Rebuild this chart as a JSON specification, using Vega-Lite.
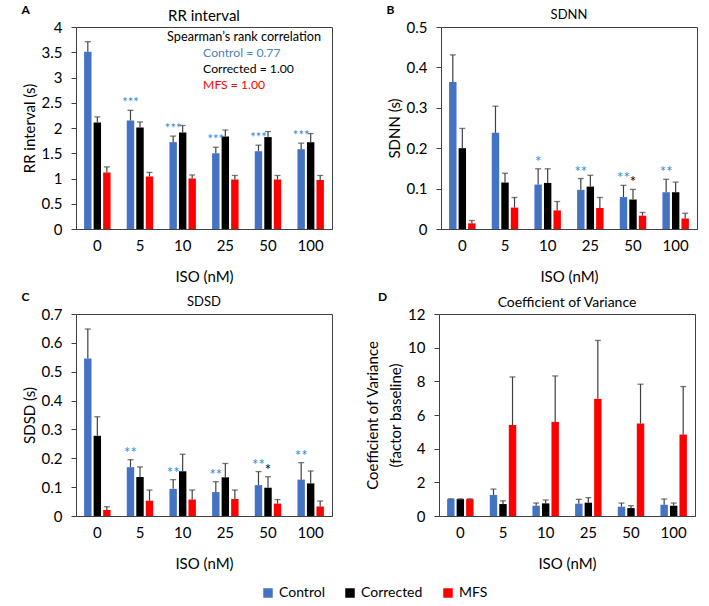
{
  "$schema": "https://vega.github.io/schema/vega-lite/v6.json",
  "padding": {"left": 21, "top": 3, "right": 0, "bottom": 0},
  "background": "white",
  "datasets": {
    "bars": [
      {"panel":"A","iso":"0","group":"Control","value":3.51,"upper":3.71,"sig":""},
      {"panel":"A","iso":"0","group":"Corrected","value":2.11,"upper":2.22,"sig":""},
      {"panel":"A","iso":"0","group":"MFS","value":1.12,"upper":1.23,"sig":""},
      {"panel":"A","iso":"5","group":"Control","value":2.15,"upper":2.35,"sig":"***"},
      {"panel":"A","iso":"5","group":"Corrected","value":2.01,"upper":2.12,"sig":""},
      {"panel":"A","iso":"5","group":"MFS","value":1.04,"upper":1.12,"sig":""},
      {"panel":"A","iso":"10","group":"Control","value":1.72,"upper":1.84,"sig":"***"},
      {"panel":"A","iso":"10","group":"Corrected","value":1.91,"upper":2.05,"sig":""},
      {"panel":"A","iso":"10","group":"MFS","value":1.00,"upper":1.07,"sig":""},
      {"panel":"A","iso":"25","group":"Control","value":1.50,"upper":1.62,"sig":"***"},
      {"panel":"A","iso":"25","group":"Corrected","value":1.83,"upper":1.96,"sig":""},
      {"panel":"A","iso":"25","group":"MFS","value":0.98,"upper":1.06,"sig":""},
      {"panel":"A","iso":"50","group":"Control","value":1.54,"upper":1.66,"sig":"***"},
      {"panel":"A","iso":"50","group":"Corrected","value":1.82,"upper":1.93,"sig":""},
      {"panel":"A","iso":"50","group":"MFS","value":0.98,"upper":1.06,"sig":""},
      {"panel":"A","iso":"100","group":"Control","value":1.58,"upper":1.70,"sig":"***"},
      {"panel":"A","iso":"100","group":"Corrected","value":1.72,"upper":1.89,"sig":""},
      {"panel":"A","iso":"100","group":"MFS","value":0.97,"upper":1.06,"sig":""},

      {"panel":"B","iso":"0","group":"Control","value":0.364,"upper":0.431,"sig":""},
      {"panel":"B","iso":"0","group":"Corrected","value":0.200,"upper":0.249,"sig":""},
      {"panel":"B","iso":"0","group":"MFS","value":0.014,"upper":0.021,"sig":""},
      {"panel":"B","iso":"5","group":"Control","value":0.238,"upper":0.304,"sig":""},
      {"panel":"B","iso":"5","group":"Corrected","value":0.115,"upper":0.138,"sig":""},
      {"panel":"B","iso":"5","group":"MFS","value":0.053,"upper":0.078,"sig":""},
      {"panel":"B","iso":"10","group":"Control","value":0.110,"upper":0.149,"sig":"*"},
      {"panel":"B","iso":"10","group":"Corrected","value":0.114,"upper":0.149,"sig":""},
      {"panel":"B","iso":"10","group":"MFS","value":0.046,"upper":0.068,"sig":""},
      {"panel":"B","iso":"25","group":"Control","value":0.097,"upper":0.125,"sig":"**"},
      {"panel":"B","iso":"25","group":"Corrected","value":0.105,"upper":0.133,"sig":""},
      {"panel":"B","iso":"25","group":"MFS","value":0.052,"upper":0.078,"sig":""},
      {"panel":"B","iso":"50","group":"Control","value":0.079,"upper":0.108,"sig":"**"},
      {"panel":"B","iso":"50","group":"Corrected","value":0.073,"upper":0.098,"sig":"*"},
      {"panel":"B","iso":"50","group":"MFS","value":0.033,"upper":0.041,"sig":""},
      {"panel":"B","iso":"100","group":"Control","value":0.091,"upper":0.123,"sig":"**"},
      {"panel":"B","iso":"100","group":"Corrected","value":0.091,"upper":0.116,"sig":""},
      {"panel":"B","iso":"100","group":"MFS","value":0.026,"upper":0.039,"sig":""},

      {"panel":"C","iso":"0","group":"Control","value":0.546,"upper":0.648,"sig":""},
      {"panel":"C","iso":"0","group":"Corrected","value":0.278,"upper":0.344,"sig":""},
      {"panel":"C","iso":"0","group":"MFS","value":0.021,"upper":0.032,"sig":""},
      {"panel":"C","iso":"5","group":"Control","value":0.169,"upper":0.195,"sig":"**"},
      {"panel":"C","iso":"5","group":"Corrected","value":0.135,"upper":0.170,"sig":""},
      {"panel":"C","iso":"5","group":"MFS","value":0.053,"upper":0.090,"sig":""},
      {"panel":"C","iso":"10","group":"Control","value":0.094,"upper":0.126,"sig":"**"},
      {"panel":"C","iso":"10","group":"Corrected","value":0.155,"upper":0.214,"sig":""},
      {"panel":"C","iso":"10","group":"MFS","value":0.057,"upper":0.090,"sig":""},
      {"panel":"C","iso":"25","group":"Control","value":0.083,"upper":0.119,"sig":"**"},
      {"panel":"C","iso":"25","group":"Corrected","value":0.134,"upper":0.182,"sig":""},
      {"panel":"C","iso":"25","group":"MFS","value":0.059,"upper":0.090,"sig":""},
      {"panel":"C","iso":"50","group":"Control","value":0.107,"upper":0.154,"sig":"**"},
      {"panel":"C","iso":"50","group":"Corrected","value":0.098,"upper":0.136,"sig":"*"},
      {"panel":"C","iso":"50","group":"MFS","value":0.043,"upper":0.057,"sig":""},
      {"panel":"C","iso":"100","group":"Control","value":0.126,"upper":0.185,"sig":"**"},
      {"panel":"C","iso":"100","group":"Corrected","value":0.113,"upper":0.156,"sig":""},
      {"panel":"C","iso":"100","group":"MFS","value":0.033,"upper":0.052,"sig":""},

      {"panel":"D","iso":"0","group":"Control","value":1.0,"upper":1.02,"sig":""},
      {"panel":"D","iso":"0","group":"Corrected","value":1.0,"upper":1.02,"sig":""},
      {"panel":"D","iso":"0","group":"MFS","value":1.0,"upper":1.02,"sig":""},
      {"panel":"D","iso":"5","group":"Control","value":1.25,"upper":1.6,"sig":""},
      {"panel":"D","iso":"5","group":"Corrected","value":0.71,"upper":0.9,"sig":""},
      {"panel":"D","iso":"5","group":"MFS","value":5.40,"upper":8.26,"sig":""},
      {"panel":"D","iso":"10","group":"Control","value":0.61,"upper":0.77,"sig":""},
      {"panel":"D","iso":"10","group":"Corrected","value":0.75,"upper":0.95,"sig":""},
      {"panel":"D","iso":"10","group":"MFS","value":5.59,"upper":8.32,"sig":""},
      {"panel":"D","iso":"25","group":"Control","value":0.73,"upper":0.99,"sig":""},
      {"panel":"D","iso":"25","group":"Corrected","value":0.79,"upper":1.09,"sig":""},
      {"panel":"D","iso":"25","group":"MFS","value":6.96,"upper":10.43,"sig":""},
      {"panel":"D","iso":"50","group":"Control","value":0.55,"upper":0.77,"sig":""},
      {"panel":"D","iso":"50","group":"Corrected","value":0.47,"upper":0.61,"sig":""},
      {"panel":"D","iso":"50","group":"MFS","value":5.49,"upper":7.83,"sig":""},
      {"panel":"D","iso":"100","group":"Control","value":0.67,"upper":1.01,"sig":""},
      {"panel":"D","iso":"100","group":"Corrected","value":0.61,"upper":0.77,"sig":""},
      {"panel":"D","iso":"100","group":"MFS","value":4.84,"upper":7.69,"sig":""}
    ],
    "notes": [
      {"iso":"25","group":"Control","label":"Control = 0.77","y":3.49},
      {"iso":"25","group":"Corrected","label":"Corrected = 1.00","y":3.17},
      {"iso":"25","group":"MFS","label":"MFS = 1.00","y":2.85}
    ],
    "heading": [
      {"iso":"25","label":"Spearman’s rank correlation","y":3.80}
    ]
  },
  "vconcat": [
    {
      "hconcat": [
        {
          "title": {"text": "A", "anchor": "start", "fontWeight": "bold", "fontSize": 12, "offset": -8},
          "vconcat": [
            {
              "width": 256, "height": 202,
              "title": {"text": "RR interval", "fontSize": 15, "offset": -4, "frame": "group"},
              "data": {"name": "bars"},
              "transform": [{"filter": "datum.panel === 'A'"}],
              "encoding": {
                "x": {"field": "iso", "type": "nominal", "sort": ["0","5","10","25","50","100"],
                      "scale": {"paddingInner": 0.38, "paddingOuter": 0.19},
                      "axis": {"title": "ISO (nM)"}},
                "xOffset": {"field": "group", "type": "nominal", "sort": ["Control","Corrected","MFS"], "scale": {"paddingInner": 0.22}}
              },
              "layer": [
                {"mark": {"type": "bar"},
                 "encoding": {
                   "y": {"field": "value", "type": "quantitative", "scale": {"domain": [0, 4]},
                         "axis": {"title": "RR interval (s)", "values": [0,0.5,1,1.5,2,2.5,3,3.5,4], "format": "~g", "labelOverlap": false}},
                   "color": {"field": "group", "type": "nominal", "sort": ["Control","Corrected","MFS"],
                             "scale": {"domain": ["Control","Corrected","MFS"], "range": ["#4472C4","#000000","#FF0000"]},
                             "legend": {"title": null, "orient": "none", "direction": "horizontal", "legendX": 185, "legendY": 559, "symbolType": "square", "symbolSize": 90, "symbolStrokeWidth": 0, "labelFontSize": 14, "labelFont": "Lato", "columnPadding": 18, "symbolOpacity": 1}}
                 }},
                {"mark": {"type": "rule", "color": "#404040", "strokeWidth": 1.2},
                 "encoding": {"y": {"field": "value", "type": "quantitative", "axis": {"title": "RR interval (s)", "values": [0,0.5,1,1.5,2,2.5,3,3.5,4], "format": "~g", "labelOverlap": false}}, "y2": {"field": "upper"}}},
                {"mark": {"type": "tick", "color": "#404040", "size": 6, "thickness": 1.3},
                 "encoding": {"y": {"field": "upper", "type": "quantitative", "axis": {"title": "RR interval (s)", "values": [0,0.5,1,1.5,2,2.5,3,3.5,4], "format": "~g", "labelOverlap": false}}}},
                {"transform": [{"filter": "datum.sig !== ''"}],
                 "mark": {"type": "text", "baseline": "middle", "dy": -7, "fontSize": 13, "font": "Lato"},
                 "encoding": {"y": {"field": "upper", "type": "quantitative", "axis": {"title": "RR interval (s)", "values": [0,0.5,1,1.5,2,2.5,3,3.5,4], "format": "~g", "labelOverlap": false}}, "text": {"field": "sig"},
                   "color": {"condition": {"test": "datum.group === 'Control'", "value": "#2E8BDD"}, "value": "#000000"}}},
                {"data": {"name": "heading"},
                 "mark": {"type": "text", "align": "center", "baseline": "middle", "fontSize": 12.7, "font": "Lato", "color": "#000000", "dx": 32},
                 "encoding": {"x": {"field": "iso", "type": "nominal"}, "xOffset": {"value": 0},
                   "y": {"field": "y", "type": "quantitative", "axis": {"title": "RR interval (s)", "values": [0,0.5,1,1.5,2,2.5,3,3.5,4], "format": "~g", "labelOverlap": false}}, "text": {"field": "label"}}},
                {"data": {"name": "notes"},
                 "mark": {"type": "text", "align": "left", "baseline": "middle", "fontSize": 12.2, "font": "Lato", "dx": -9},
                 "encoding": {"x": {"field": "iso", "type": "nominal"}, "xOffset": {"value": 0},
                   "y": {"field": "y", "type": "quantitative", "axis": {"title": "RR interval (s)", "values": [0,0.5,1,1.5,2,2.5,3,3.5,4], "format": "~g", "labelOverlap": false}}, "text": {"field": "label"},
                   "color": {"condition": [{"test": "datum.group === 'Control'", "value": "#4F81BD"}, {"test": "datum.group === 'MFS'", "value": "#FF0000"}], "value": "#000000"}}}
              ]
            }
          ]
        },
        {
          "title": {"text": "B", "anchor": "start", "fontWeight": "bold", "fontSize": 12, "offset": -8},
          "vconcat": [
            {
              "width": 256, "height": 202,
              "title": {"text": "SDNN", "fontSize": 13, "offset": -2, "frame": "group"},
              "data": {"name": "bars"},
              "transform": [{"filter": "datum.panel === 'B'"}],
              "encoding": {
                "x": {"field": "iso", "type": "nominal", "sort": ["0","5","10","25","50","100"],
                      "scale": {"paddingInner": 0.38, "paddingOuter": 0.19},
                      "axis": {"title": "ISO (nM)"}},
                "xOffset": {"field": "group", "type": "nominal", "sort": ["Control","Corrected","MFS"], "scale": {"paddingInner": 0.22}}
              },
              "layer": [
                {"mark": {"type": "bar"},
                 "encoding": {
                   "y": {"field": "value", "type": "quantitative", "scale": {"domain": [0, 0.5]},
                         "axis": {"title": "SDNN (s)", "values": [0,0.1,0.2,0.3,0.4,0.5], "format": "~g", "labelOverlap": false}},
                   "color": {"field": "group", "type": "nominal", "sort": ["Control","Corrected","MFS"]}
                 }},
                {"mark": {"type": "rule", "color": "#404040", "strokeWidth": 1.2},
                 "encoding": {"y": {"field": "value", "type": "quantitative", "axis": {"title": "SDNN (s)", "values": [0,0.1,0.2,0.3,0.4,0.5], "format": "~g", "labelOverlap": false}}, "y2": {"field": "upper"}}},
                {"mark": {"type": "tick", "color": "#404040", "size": 6, "thickness": 1.3},
                 "encoding": {"y": {"field": "upper", "type": "quantitative", "axis": {"title": "SDNN (s)", "values": [0,0.1,0.2,0.3,0.4,0.5], "format": "~g", "labelOverlap": false}}}},
                {"transform": [{"filter": "datum.sig !== ''"}],
                 "mark": {"type": "text", "baseline": "middle", "dy": -7, "fontSize": 15, "font": "Lato"},
                 "encoding": {"y": {"field": "upper", "type": "quantitative", "axis": {"title": "SDNN (s)", "values": [0,0.1,0.2,0.3,0.4,0.5], "format": "~g", "labelOverlap": false}}, "text": {"field": "sig"},
                   "color": {"condition": {"test": "datum.group === 'Control'", "value": "#2E8BDD"}, "value": "#000000"}}}
              ]
            }
          ]
        }
      ],
      "spacing": 53
    },
    {
      "hconcat": [
        {
          "title": {"text": "C", "anchor": "start", "fontWeight": "bold", "fontSize": 12, "offset": -8},
          "vconcat": [
            {
              "width": 256, "height": 202,
              "title": {"text": "SDSD", "fontSize": 13, "offset": -2, "frame": "group"},
              "data": {"name": "bars"},
              "transform": [{"filter": "datum.panel === 'C'"}],
              "encoding": {
                "x": {"field": "iso", "type": "nominal", "sort": ["0","5","10","25","50","100"],
                      "scale": {"paddingInner": 0.38, "paddingOuter": 0.19},
                      "axis": {"title": "ISO (nM)"}},
                "xOffset": {"field": "group", "type": "nominal", "sort": ["Control","Corrected","MFS"], "scale": {"paddingInner": 0.22}}
              },
              "layer": [
                {"mark": {"type": "bar"},
                 "encoding": {
                   "y": {"field": "value", "type": "quantitative", "scale": {"domain": [0, 0.7]},
                         "axis": {"title": "SDSD (s)", "values": [0,0.1,0.2,0.3,0.4,0.5,0.6,0.7], "format": "~g", "labelOverlap": false}},
                   "color": {"field": "group", "type": "nominal", "sort": ["Control","Corrected","MFS"]}
                 }},
                {"mark": {"type": "rule", "color": "#404040", "strokeWidth": 1.2},
                 "encoding": {"y": {"field": "value", "type": "quantitative", "axis": {"title": "SDSD (s)", "values": [0,0.1,0.2,0.3,0.4,0.5,0.6,0.7], "format": "~g", "labelOverlap": false}}, "y2": {"field": "upper"}}},
                {"mark": {"type": "tick", "color": "#404040", "size": 6, "thickness": 1.3},
                 "encoding": {"y": {"field": "upper", "type": "quantitative", "axis": {"title": "SDSD (s)", "values": [0,0.1,0.2,0.3,0.4,0.5,0.6,0.7], "format": "~g", "labelOverlap": false}}}},
                {"transform": [{"filter": "datum.sig !== ''"}],
                 "mark": {"type": "text", "baseline": "middle", "dy": -7, "fontSize": 15, "font": "Lato"},
                 "encoding": {"y": {"field": "upper", "type": "quantitative", "axis": {"title": "SDSD (s)", "values": [0,0.1,0.2,0.3,0.4,0.5,0.6,0.7], "format": "~g", "labelOverlap": false}}, "text": {"field": "sig"},
                   "color": {"condition": {"test": "datum.group === 'Control'", "value": "#2E8BDD"}, "value": "#000000"}}}
              ]
            }
          ]
        },
        {
          "title": {"text": "D", "anchor": "start", "fontWeight": "bold", "fontSize": 12, "offset": -8, "dx": 13},
          "vconcat": [
            {
              "width": 256, "height": 202,
              "title": {"text": "Coefficient of Variance", "fontSize": 14, "offset": -3, "frame": "group"},
              "data": {"name": "bars"},
              "transform": [{"filter": "datum.panel === 'D'"}],
              "encoding": {
                "x": {"field": "iso", "type": "nominal", "sort": ["0","5","10","25","50","100"],
                      "scale": {"paddingInner": 0.38, "paddingOuter": 0.19},
                      "axis": {"title": "ISO (nM)"}},
                "xOffset": {"field": "group", "type": "nominal", "sort": ["Control","Corrected","MFS"], "scale": {"paddingInner": 0.22}}
              },
              "layer": [
                {"mark": {"type": "bar"},
                 "encoding": {
                   "y": {"field": "value", "type": "quantitative", "scale": {"domain": [0, 12]},
                         "axis": {"title": ["Coefficient of Variance", "(factor baseline)"], "titleLineHeight": 23, "values": [0,2,4,6,8,10,12], "format": "~g", "labelOverlap": false}},
                   "color": {"field": "group", "type": "nominal", "sort": ["Control","Corrected","MFS"]}
                 }},
                {"mark": {"type": "rule", "color": "#404040", "strokeWidth": 1.2},
                 "encoding": {"y": {"field": "value", "type": "quantitative", "axis": {"title": ["Coefficient of Variance", "(factor baseline)"], "titleLineHeight": 23, "values": [0,2,4,6,8,10,12], "format": "~g", "labelOverlap": false}}, "y2": {"field": "upper"}}},
                {"mark": {"type": "tick", "color": "#404040", "size": 6, "thickness": 1.3},
                 "encoding": {"y": {"field": "upper", "type": "quantitative", "axis": {"title": ["Coefficient of Variance", "(factor baseline)"], "titleLineHeight": 23, "values": [0,2,4,6,8,10,12], "format": "~g", "labelOverlap": false}}}}
              ]
            }
          ]
        }
      ],
      "spacing": 32
    }
  ],
  "spacing": 5,
  "resolve": {"scale": {"color": "shared"}},
  "config": {
    "font": "Lato",
    "view": {"stroke": "#404040", "strokeWidth": 1},
    "title": {"font": "Lato", "fontWeight": "normal", "color": "#000000"},
    "axis": {"labelFont": "Lato", "titleFont": "Lato", "labelColor": "#000000", "titleColor": "#000000",
             "labelFontSize": 15, "titleFontSize": 15, "titleFontWeight": "normal", "grid": false,
             "domainColor": "#404040", "tickColor": "#404040", "tickSize": 5, "labelOverlap": false},
    "axisX": {"labelAngle": 0, "ticks": false, "labelPadding": 9, "titlePadding": 16},
    "axisY": {"titlePadding": 4, "labelPadding": 9},
    "bar": {"stroke": null},
    "legend": {"labelFont": "Lato", "labelColor": "#000000"}
  }
}
